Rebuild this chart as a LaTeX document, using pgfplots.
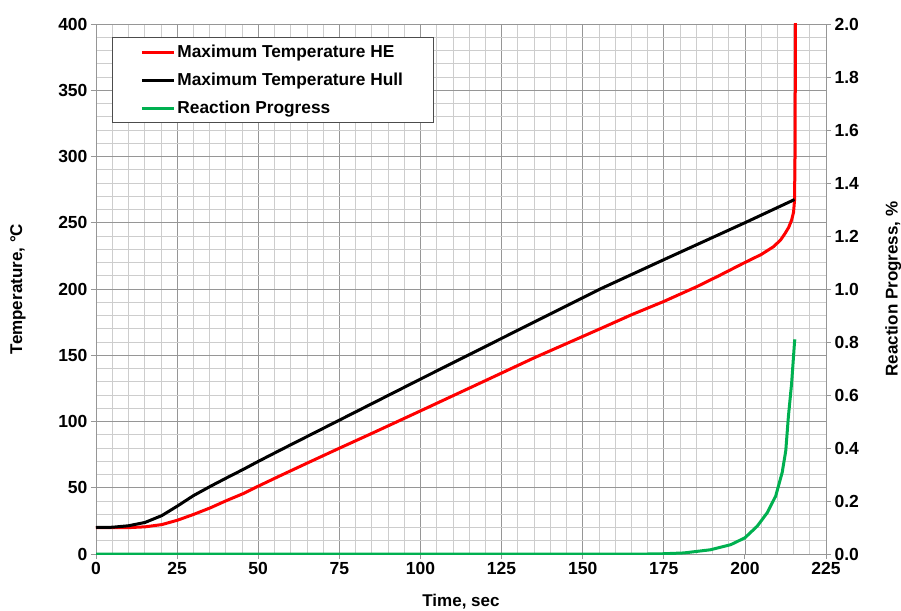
\documentclass[border=0pt]{standalone}
\usepackage{pgfplots}
\pgfplotsset{compat=1.18}
\usepackage{fontspec}
\setmainfont{Liberation Sans}
\definecolor{mygreen}{RGB}{0,176,80}
\definecolor{majgrid}{RGB}{150,150,150}
\definecolor{mingrid}{RGB}{205,205,205}
\begin{document}
\begin{tikzpicture}
\pgfplotsset{
  every axis/.append style={
    scale only axis, width=730pt, height=530pt,
    xmin=0, xmax=225,
    tick label style={font=\fontsize{17.5}{19}\selectfont\bfseries},
    label style={font=\fontsize{17}{19}\selectfont\bfseries},
    /pgf/number format/assume math mode=true,
    tick align=outside, major tick length=5pt,
    tick style={majgrid, line width=0.8pt},
  }
}
\begin{axis}[name=ax,
  ymin=0, ymax=400,
  axis x line*=bottom, axis y line*=left,
  axis line style={majgrid, line width=0.8pt},
  xtick={0,25,...,225}, ytick={0,50,...,400},
  minor xtick={0,5,...,225}, minor ytick={0,10,...,400},
  grid=both,
  major grid style={majgrid, line width=0.7pt},
  minor grid style={mingrid, line width=0.7pt},
  minor tick length=0pt,
  xlabel={Time, sec}, ylabel={Temperature, °C},
  xlabel style={at={(axis description cs:0.5,-0.09)}, anchor=center},
  ylabel style={at={(axis description cs:-0.107,0.5)}, anchor=center, rotate=0},
  clip=true,
  legend style={at={(0.022,0.975)}, anchor=north west, draw=black!70, line width=0.8pt,
    font=\fontsize{17.3}{19}\selectfont\bfseries, inner xsep=28pt, inner ysep=5.5pt,
    row sep=10pt, cells={anchor=west}},
  legend image code/.code={\draw[#1, line width=3pt] (0pt,0pt) -- (32pt,0pt);},
]
\addplot[red, line width=3pt] coordinates {
(0,20) (5,20) (10,19.9) (15.1,20.5) (20.3,22.2) (25.1,25.5) (30,29.8) (35.2,34.8) (40.3,40.4)
(45.5,45.7) (50.1,51.3) (56.7,59) (65,68.5) (74.7,79.5) (85,91) (100,108) (118.4,129)
(135,148) (155.4,170) (165,180.5) (175,190.6) (185.2,201.8) (192,210) (199.5,219.4)
(205,226) (208.8,231.9) (211,237) (212.4,242) (213.5,246.5) (214.4,252) (215,258)
(215.3,267) (215.45,300) (215.6,405)
};
\addlegendentry{Maximum Temperature HE}
\addplot[black, line width=3pt] coordinates {
(0,20) (5,20.2) (10,21.3) (15.1,23.8) (20.3,29) (25.1,36.2) (30,44) (35.2,51) (40.3,57.5)
(45.5,64) (50.1,70) (56.7,78.3) (75,101) (100,132) (118.4,154.6) (135,175) (155.4,200)
(174.9,222) (200,250) (215.3,267.5)
};
\addlegendentry{Maximum Temperature Hull}
\addlegendimage{mygreen, line width=3pt}
\addlegendentry{Reaction Progress}
\end{axis}
\begin{axis}[
  ymin=0, ymax=2,
  axis x line=none, axis y line*=right,
  axis line style={majgrid, line width=0.8pt},
  ytick={0,0.2,...,2.0},
  yticklabel style={/pgf/number format/.cd, fixed, fixed zerofill, precision=1},
  ylabel={Reaction Progress, \%},
  ylabel style={at={(axis description cs:1.092,0.5)}, anchor=center, rotate=0},
  clip=true,
]
\addplot[mygreen, line width=3pt] coordinates {
(0,0) (170,0) (175,0.001) (181.2,0.004) (189.4,0.016) (195.6,0.035) (200,0.061)
(203.8,0.105) (206.9,0.156) (209.5,0.219) (211.5,0.308) (212.6,0.39) (213.4,0.518)
(214.4,0.644) (215.3,0.80) (215.4,0.81)
};
\end{axis}
\pgfresetboundingbox
\path[use as bounding box] ([xshift=-96pt,yshift=-56pt]ax.south west) rectangle ([xshift=75pt,yshift=24pt]ax.north east);
\end{tikzpicture}
\end{document}
